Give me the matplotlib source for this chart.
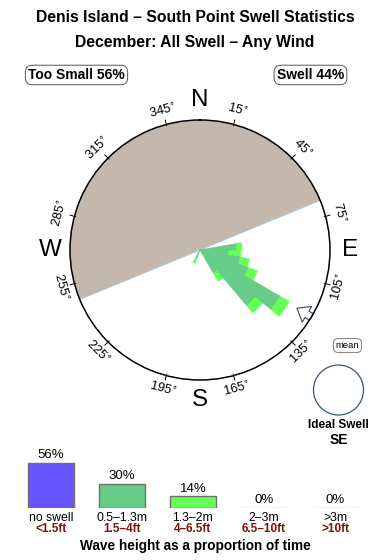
import numpy as np
import matplotlib
matplotlib.use("Agg")
import matplotlib.pyplot as plt
from matplotlib.patches import Circle

plt.rcParams["font.family"] = ["Liberation Sans", "DejaVu Sans"]

# ---- data -------------------------------------------------------------------
title = "Denis Island \u2013 South Point Swell Statistics"
subtitle = "December: All Swell \u2013 Any Wind"
too_small_pct = 56
swell_pct = 44

# rose: direction bins (deg, 10 deg wide) and plotted length of each band
rose_dirs = [85, 95, 105, 115, 125, 135, 145, 205]
rose_mid = [3.6, 2.8, 4.0, 5.1, 9.2, 7.2, 2.6, 0.8]      # 0.5-1.3m
rose_big = [0.6, 1.3, 1.0, 1.0, 1.1, 1.0, 1.0, 0.6]      # 1.3-2m
rose_rmax = 13.0
shadow_from, shadow_to = 247.6, 427.6                   # sheltered sector
mean_dir = 121
ideal_label = "SE"

tick_dirs = [15, 45, 75, 105, 135, 165, 195, 225, 255, 285, 315, 345]
cardinals = [("N", 0), ("E", 90), ("S", 180), ("W", 270)]

bands = ["no swell", "0.5\u20131.3m", "1.3\u20132m", "2\u20133m", ">3m"]
bands_ft = ["<1.5ft", "1.5\u20134ft", "4\u20136.5ft", "6.5\u201310ft", ">10ft"]
band_pct = [56, 30, 14, 0, 0]
band_colors = ["#6655ff", "#66cc88", "#66ff55", "#b8b8a0", "#c8a49c"]

# ---- figure -----------------------------------------------------------------
fig = plt.figure(figsize=(3.9, 5.6), dpi=100)
ax = fig.add_axes([0, 0, 1, 1])
ax.set_xlim(0, 390)
ax.set_ylim(560, 0)
ax.axis("off")

ax.text(195, 18, title, ha="center", va="center", fontsize=11.3, fontweight="bold")
ax.text(195, 43, subtitle, ha="center", va="center", fontsize=11.3, fontweight="bold")

box = dict(boxstyle="round,pad=0.2,rounding_size=0.5", fc="white", ec="#555555", lw=0.7)
ax.text(76.5, 75, f"Too Small {too_small_pct}%", ha="center", va="center",
        fontsize=10, fontweight="bold", bbox=box)
ax.text(310.5, 75, f"Swell {swell_pct}%", ha="center", va="center",
        fontsize=10, fontweight="bold", bbox=box)

# ---- rose -------------------------------------------------------------------
rax = fig.add_axes([70 / 390, 1 - 380 / 560, 260 / 390, 260 / 560], projection="polar")
rax.set_theta_zero_location("N")
rax.set_theta_direction(-1)
rax.set_ylim(0, rose_rmax)
rax.grid(False)
rax.set_xticks([])
rax.set_yticks([])
rax.spines["polar"].set_linewidth(1.1)
rax.spines["polar"].set_zorder(5)

sh_c = np.deg2rad((shadow_from + shadow_to) / 2)
sh_w = np.deg2rad(shadow_to - shadow_from)
rax.bar(sh_c, rose_rmax, width=sh_w, bottom=0, color="#c4b8ac",
        edgecolor="#a8cce4", linewidth=0.6, zorder=1)

th = np.deg2rad(rose_dirs)
w = np.deg2rad(10)
rax.bar(th, rose_mid, width=w, bottom=0, color="#66cc88",
        edgecolor="#66cc88", linewidth=0.5, zorder=3)
rax.bar(th, rose_big, width=w, bottom=rose_mid, color="#66ff55",
        edgecolor="#66ff55", linewidth=0.5, zorder=2)

for d in tick_dirs:
    t = np.deg2rad(d)
    rax.plot([t, t], [rose_rmax * 0.99, rose_rmax * 1.035], color="black",
             lw=0.7, clip_on=False, zorder=6)
    rot = -d
    if 90 < d < 270:
        rot += 180
    rax.text(t, rose_rmax * 1.11, f"{d}$^{{\\circ}}$", rotation=rot, ha="center",
             va="center", fontsize=9.3, rotation_mode="anchor", clip_on=False)

for lab, d in cardinals:
    rax.text(np.deg2rad(d), rose_rmax * 1.155, lab, ha="center", va="center",
             fontsize=17.5, clip_on=False)

tm = np.deg2rad(mean_dir)
rax.annotate("", xy=(tm, rose_rmax * 0.87), xytext=(tm, rose_rmax * 1.0),
             arrowprops=dict(arrowstyle="simple,head_length=0.7,head_width=1.1,tail_width=0.45",
                             fc="white", ec="#334455", lw=0.8, shrinkA=0, shrinkB=0,
                             mutation_scale=12), zorder=4)

# ---- mean / ideal swell -----------------------------------------------------
ax.text(347.5, 345.5, "mean", ha="center", va="center", fontsize=6.8,
        bbox=dict(boxstyle="round,pad=0.25,rounding_size=0.5", fc="white", ec="#666666", lw=0.6))
ax.add_patch(Circle((338.5, 390), 25, fill=False, ec="#3b5577", lw=0.9))
ax.text(338.5, 425, "Ideal Swell", ha="center", va="center", fontsize=8.5, fontweight="bold")
ax.text(338.5, 439.5, ideal_label, ha="center", va="center", fontsize=10, fontweight="bold")

# ---- wave height bars -------------------------------------------------------
bax = fig.add_axes([15.5 / 390, 1 - 507.5 / 560, 355 / 390, 48 / 560])
bax.set_xlim(-0.5, 4.5)
bax.set_ylim(0, 60)
bax.axis("off")
xs = np.arange(len(bands))
edges = ["#707070" if p > 0 else c for p, c in zip(band_pct, band_colors)]
bax.bar(xs, band_pct, width=0.634, color=band_colors, edgecolor=edges, linewidth=1.0)
for x, p in zip(xs, band_pct):
    bax.annotate(f"{p}%", (x, p), xytext=(0, 5.6), textcoords="offset points",
                 ha="center", va="center", fontsize=9.5, annotation_clip=False)
for x, a, b in zip(xs, bands, bands_ft):
    bax.annotate(a, (x, 0), xytext=(0, -7.8), textcoords="offset points",
                 ha="center", va="center", fontsize=8.8, annotation_clip=False)
    bax.annotate(b, (x, 0), xytext=(0, -15.8), textcoords="offset points",
                 ha="center", va="center", fontsize=8.5, fontweight="bold",
                 color="#7a1414", annotation_clip=False)

ax.text(195, 546, "Wave height as a proportion of time", ha="center", va="center",
        fontsize=9.8, fontweight="bold")

fig.savefig("out.png", dpi=100)
